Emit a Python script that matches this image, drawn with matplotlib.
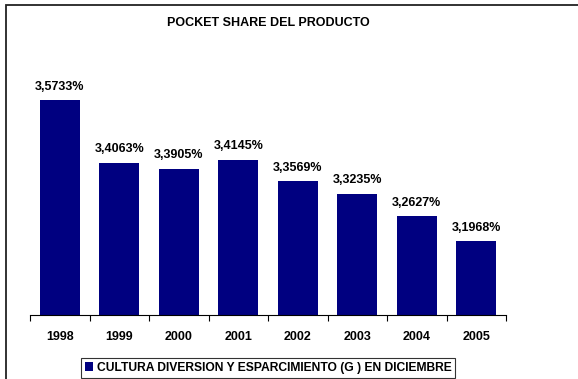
import matplotlib
matplotlib.use("Agg")
import matplotlib.pyplot as plt
from matplotlib.patches import Rectangle
import numpy as np

years = ["1998", "1999", "2000", "2001", "2002", "2003", "2004", "2005"]
values = [3.5733, 3.4063, 3.3905, 3.4145, 3.3569, 3.3235, 3.2627, 3.1968]
labels = ["3,5733%", "3,4063%", "3,3905%", "3,4145%", "3,3569%", "3,3235%", "3,2627%", "3,1968%"]
series_name = "CULTURA DIVERSION Y ESPARCIMIENTO (G ) EN DICIEMBRE"
title = "POCKET SHARE DEL PRODUCTO"

plt.rcParams['font.family'] = ['Liberation Sans', 'DejaVu Sans']

fig = plt.figure(figsize=(5.78, 3.79), dpi=100)
fig.patch.set_facecolor('white')
W, H = 578, 379
ax = fig.add_axes([30 / W, (H - 315) / H, (506 - 30) / W, 225 / H])

x = np.arange(len(years))
bars = ax.bar(x, values, width=0.667, color='#000080', bottom=0, label=series_name)
ax.set_ylim(3.0, 3.6)
ax.set_xlim(-0.5, len(years) - 0.5)

for xi, v, lab in zip(x, values, labels):
    ax.text(xi, v + 0.02, lab, ha='center', va='bottom', fontsize=9,
            fontweight='bold', clip_on=False)

for s in ['top', 'right', 'left']:
    ax.spines[s].set_visible(False)
ax.spines['bottom'].set_linewidth(0.8)
ax.set_yticks([])
ax.set_xticks(x)
ax.set_xticklabels(years, fontsize=9, fontweight='bold')
ax.tick_params(axis='x', which='major', length=0, pad=11.5)
ax.set_xticks(np.arange(-0.5, len(years), 1.0), minor=True)
ax.tick_params(axis='x', which='minor', length=4, width=0.8, direction='out')

fig.text(268 / W, 1 - 23 / H, title, ha='center', va='center', fontsize=9, fontweight='bold')

leg = fig.legend(handles=[bars], labels=[series_name], loc='center',
                 bbox_to_anchor=(268 / W, 1 - 368 / H), frameon=True, fancybox=False,
                 prop={'weight': 'bold', 'size': 8.75}, handlelength=0.7, handleheight=0.7,
                 handletextpad=0.3, borderpad=0.3, borderaxespad=0)
leg.get_frame().set_edgecolor('black')
leg.get_frame().set_linewidth(0.8)

fig.patches.append(Rectangle((5.5 / W, -0.1), 1.2, 1 - 4.5 / H + 0.1, transform=fig.transFigure,
                             fill=False, edgecolor='#222222', linewidth=1.3))

fig.savefig("out.png", dpi=100, facecolor='white')
